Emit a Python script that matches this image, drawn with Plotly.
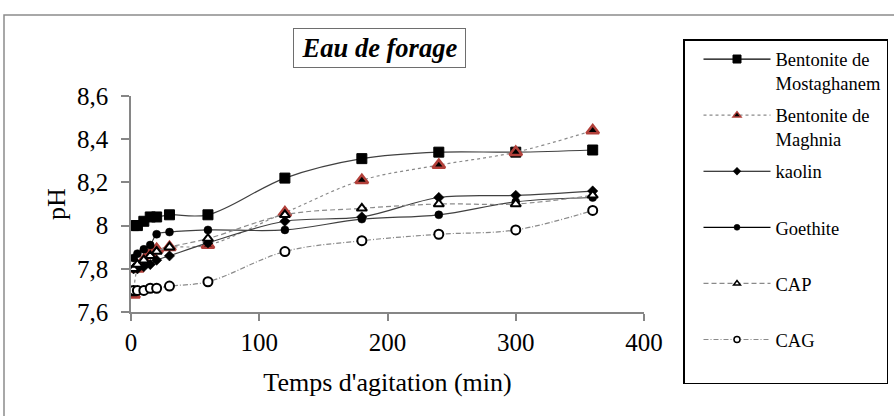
import plotly.graph_objects as go

# Sampling times (min)
temps = [2, 5, 10, 15, 20, 30, 60, 120, 180, 240, 300, 360]

# pH measured for each adsorbent
bentonite_mostaghanem = [8.00, 8.00, 8.02, 8.04, 8.04, 8.05, 8.05, 8.22, 8.31, 8.34, 8.34, 8.35]
bentonite_maghnia = [7.68, 7.80, 7.84, 7.87, 7.89, 7.90, 7.91, 8.06, 8.21, 8.28, 8.34, 8.44]
kaolin = [7.80, 7.80, 7.81, 7.82, 7.84, 7.86, 7.92, 8.02, 8.04, 8.13, 8.14, 8.16]
goethite = [7.85, 7.87, 7.89, 7.91, 7.96, 7.97, 7.98, 7.98, 8.03, 8.05, 8.11, 8.13]
cap = [7.80, 7.82, 7.84, 7.86, 7.88, 7.90, 7.94, 8.05, 8.08, 8.10, 8.10, 8.14]
cag = [7.70, 7.70, 7.70, 7.71, 7.71, 7.72, 7.74, 7.88, 7.93, 7.96, 7.98, 8.07]

x_ticks = [0, 100, 200, 300, 400]
y_ticks = [7.6, 7.8, 8.0, 8.2, 8.4, 8.6]

SERIF = "Liberation Serif"
AXIS_GRAY = "#868686"

# Plot-area geometry in pixels
W, H = 894, 416
L, R, T, B = 131, 250, 96, 104
PW, PH = W - L - R, H - T - B


def px_x(px):
    return (px - L) / PW


def px_y(py):
    return (H - B - py) / PH


# name, values, line style, plot marker, legend marker size
series = [
    ("Bentonite de<br>Mostaghanem", bentonite_mostaghanem,
     dict(color="#404040", width=1.2, dash="solid"),
     dict(symbol="square", size=10, color="black", line=dict(color="black", width=1)), 8),
    ("Bentonite de<br>Maghnia", bentonite_maghnia,
     dict(color="#8a8a8a", width=1.2, dash="dot"),
     dict(symbol="triangle-up", size=11, color="black", line=dict(color="#b2403a", width=2.5)), 7),
    ("kaolin<br> ", kaolin,
     dict(color="#404040", width=1.2, dash="solid"),
     dict(symbol="diamond", size=8, color="black", line=dict(color="black", width=0.5)), 6),
    ("Goethite<br> ", goethite,
     dict(color="#404040", width=1.2, dash="solid"),
     dict(symbol="circle", size=8, color="black", line=dict(color="black", width=0.5)), 6),
    ("CAP<br> ", cap,
     dict(color="#8a8a8a", width=1.2, dash="5px,3px"),
     dict(symbol="triangle-up", size=9, color="white", line=dict(color="black", width=2)), 6),
    ("CAG<br> ", cag,
     dict(color="#8a8a8a", width=1.2, dash="5px,2px,1px,2px"),
     dict(symbol="circle", size=9, color="white", line=dict(color="black", width=2)), 6),
]

fig = go.Figure()
for i, (name, values, line, marker, leg_size) in enumerate(series):
    fig.add_trace(go.Scatter(
        x=temps, y=values, name=name, mode="lines+markers",
        line=dict(shape="spline", smoothing=1.0, **line),
        marker=marker, legendgroup=f"g{i}", showlegend=False,
    ))
    # legend entry with the smaller key marker
    leg_marker = dict(marker)
    leg_marker["size"] = leg_size
    if "line" in leg_marker and leg_marker["line"]["width"] > 1.5:
        leg_marker["line"] = dict(leg_marker["line"], width=1.5)
    leg_line = dict(line)
    if leg_line["color"] == "#404040":
        leg_line["color"] = "black"
    fig.add_trace(go.Scatter(
        x=[None], y=[None], name=name, mode="lines+markers",
        line=leg_line, marker=leg_marker, legendgroup=f"g{i}",
        showlegend=True,
    ))

# Chart-area frame
fig.add_shape(type="rect", xref="paper", yref="paper",
              x0=px_x(4), x1=px_x(W + 20), y0=px_y(H + 20), y1=px_y(15),
              line=dict(color="#8c8c8c", width=1.5), fillcolor="rgba(0,0,0,0)")

# Boxed chart title
fig.add_annotation(
    text="<b><i>Eau de forage</i></b>", xref="paper", yref="paper",
    x=px_x(379.5), y=px_y(48), xanchor="center", yanchor="middle",
    showarrow=False, font=dict(family=SERIF, size=26.5, color="black"),
    bordercolor="#6e6e6e", borderwidth=1, borderpad=2, bgcolor="white",
    width=167, height=34,
)

fig.update_layout(
    width=W, height=H,
    margin=dict(l=L, r=R, t=T, b=B, autoexpand=False),
    paper_bgcolor="white", plot_bgcolor="white",
    separators=", ",
    font=dict(family=SERIF, color="black"),
    showlegend=True,
    legend=dict(
        x=px_x(683), y=px_y(39), xanchor="left", yanchor="top",
        xref="paper", yref="paper",
        bgcolor="white", bordercolor="black", borderwidth=1.5,
        font=dict(family=SERIF, size=18.5, color="black"),
        valign="top", tracegroupgap=5, itemwidth=67,
        traceorder="grouped", indentation=14, maxheight=400,
    ),
    xaxis=dict(
        range=[0, 400], tickvals=x_ticks, showgrid=False, zeroline=False,
        showline=True, linecolor=AXIS_GRAY, linewidth=1.5,
        ticks="outside", ticklen=7, tickcolor=AXIS_GRAY, tickwidth=1.5,
        tickfont=dict(family=SERIF, size=25, color="black"),
        title=dict(text="Temps d'agitation (min)", standoff=18,
                   font=dict(family=SERIF, size=26, color="black")),
    ),
    yaxis=dict(
        range=[7.6, 8.6], tickvals=y_ticks, showgrid=False, zeroline=False,
        showline=True, linecolor=AXIS_GRAY, linewidth=1.5,
        ticks="outside", ticklen=8, tickcolor=AXIS_GRAY, tickwidth=1.5,
        ticklabelstandoff=8,
        tickfont=dict(family=SERIF, size=25, color="black"),
        title=dict(text="pH", standoff=4,
                   font=dict(family=SERIF, size=26, color="black")),
    ),
)

fig.write_html("out.html")
